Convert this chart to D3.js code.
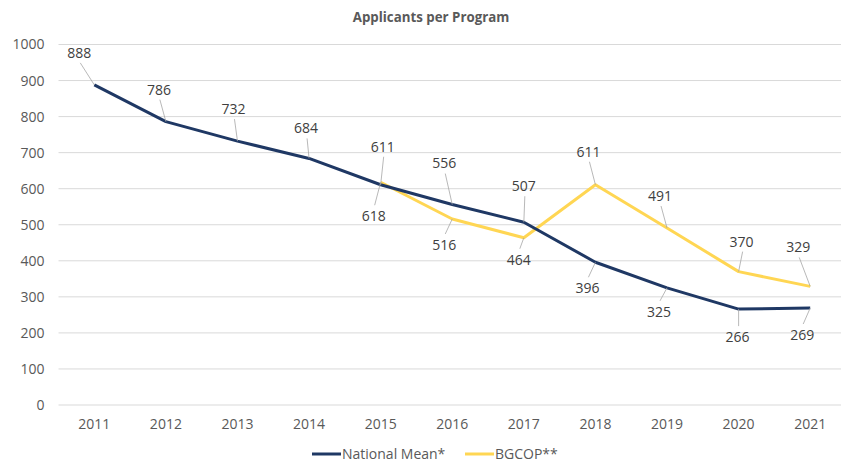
<!DOCTYPE html>
<html>
<head>
<meta charset="utf-8">
<script src="https://cdn.jsdelivr.net/npm/d3@7"></script>
<style>
  body { margin: 0; background: #fff; }
  text { font-family: "Open Sans", "Liberation Sans", sans-serif; }
</style>
</head>
<body>
<svg id="chart" width="841" height="463"></svg>
<script>
// data
const years = ["2011","2012","2013","2014","2015","2016","2017","2018","2019","2020","2021"];
const nationalMean = [888, 786, 732, 684, 611, 556, 507, 396, 325, 266, 269];
const bgcop = [null, null, null, null, 618, 516, 464, 611, 491, 370, 329];
const yTicks = [0,100,200,300,400,500,600,700,800,900,1000];

// label offsets from the point (layout only)
const natOffsets = [[-15,-32],[-7,-32],[-4,-32],[-3,-30],[2,-38],[-8,-41],[0,-36],[-8,26],[-8,24],[-1,28],[-8,27]];
const bgOffsets = [null,null,null,null,[-7,34],[-8,26],[-5,22],[-7,-33],[-7,-32],[3,-30],[-12,-39]];

const svg = d3.select("#chart");
const W = 841, H = 463;
const mLeft = 58.5, mRight = 846, mTop = 44.5, mBottom = 405;
const fs = 14;

const x = d3.scaleBand().domain(years).range([mLeft, mRight]);
const y = d3.scaleLinear().domain([0, 1000]).range([mBottom, mTop]);
const cx = d => x(d) + x.bandwidth() / 2;

///
/// title
///
svg.append("text")
  .attr("x", 431).attr("y", 22)
  .attr("text-anchor", "middle")
  .attr("font-size", 13.3).attr("font-weight", "bold")
  .attr("fill", "#595959")
  .text("Applicants per Program");

///
/// grid + axes
///
svg.append("g")
  .selectAll("line")
  .data(yTicks)
  .join("line")
  .attr("x1", mLeft).attr("x2", W)
  .attr("y1", d => y(d)).attr("y2", d => y(d))
  .attr("stroke", "#d9d9d9").attr("stroke-width", 1);

const yAxis = svg.append("g")
  .attr("transform", `translate(${mLeft},0)`)
  .call(d3.axisLeft(y).tickValues(yTicks).tickFormat(d3.format("d")).tickSize(0).tickPadding(14));
yAxis.select(".domain").remove();
yAxis.selectAll("text").attr("font-size", fs).attr("fill", "#595959")
  .attr("font-family", "Open Sans, sans-serif");

const xAxis = svg.append("g")
  .attr("transform", `translate(0,${mBottom})`)
  .call(d3.axisBottom(x).tickSize(0).tickPadding(14));
xAxis.select(".domain").remove();
xAxis.selectAll("text").attr("font-size", fs).attr("fill", "#595959")
  .attr("font-family", "Open Sans, sans-serif");

///
/// lines
///
const series = [
  { name: "National Mean*", values: nationalMean, color: "#1f3864", offsets: natOffsets },
  { name: "BGCOP**", values: bgcop, color: "#ffd653", offsets: bgOffsets }
];

const line = d3.line()
  .defined(d => d.v != null)
  .x(d => cx(d.year))
  .y(d => y(d.v));

series.slice().reverse().forEach(s => {
  svg.append("path")
    .datum(years.map((yr, i) => ({ year: yr, v: s.values[i] })))
    .attr("fill", "none")
    .attr("stroke", s.color)
    .attr("stroke-width", 3)
    .attr("stroke-linejoin", "round")
    .attr("d", line);
});

///
/// data labels with leader lines
///
series.forEach(s => {
  years.forEach((yr, i) => {
    const v = s.values[i];
    if (v == null) return;
    const px = cx(yr), py = y(v);
    const o = s.offsets[i];
    const lx = px + o[0], ly = py + o[1];
    const ey = o[1] < 0 ? ly + 10 : ly - 11;
    svg.append("line")
      .attr("x1", px).attr("y1", py)
      .attr("x2", lx + 1).attr("y2", ey)
      .attr("stroke", "#a6a6a6").attr("stroke-width", 0.8);
    svg.append("text")
      .attr("x", lx).attr("y", ly)
      .attr("dy", "0.35em")
      .attr("text-anchor", "middle")
      .attr("font-size", fs).attr("fill", "#404040")
      .text(v);
  });
});

///
/// legend
///
const legend = svg.append("g");
const legendX = [312, 465];
series.forEach((s, i) => {
  legend.append("line")
    .attr("x1", legendX[i]).attr("x2", legendX[i] + 29)
    .attr("y1", 454).attr("y2", 454)
    .attr("stroke", s.color).attr("stroke-width", 3);
  legend.append("text")
    .attr("x", legendX[i] + 30).attr("y", 459)
    .attr("font-size", fs).attr("fill", "#595959")
    .text(s.name);
});
</script>
</body>
</html>
